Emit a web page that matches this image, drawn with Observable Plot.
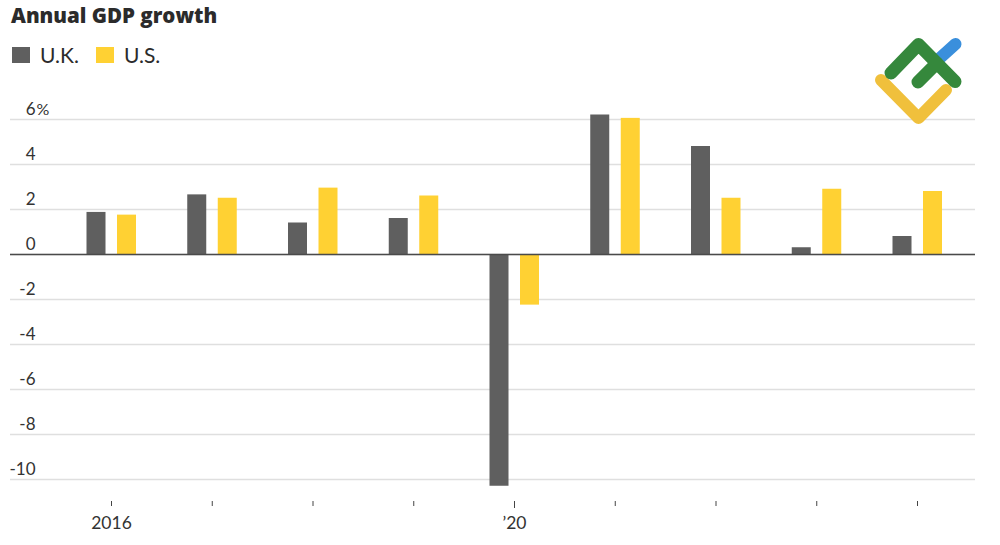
<!DOCTYPE html>
<html><head><meta charset="utf-8">
<script src="https://cdn.jsdelivr.net/npm/d3@7"></script>
<script src="https://cdn.jsdelivr.net/npm/@observablehq/plot@0.6"></script>
<style>
html,body{margin:0;padding:0;background:#fff;font-family:Lato,"Open Sans",sans-serif;color:#2b2b2b;}
#wrap{position:relative;width:1000px;height:545px;overflow:hidden;}
#hd{height:70px;position:relative;}
#title{position:absolute;left:11px;top:3px;font-family:"Open Sans",sans-serif;font-size:20.5px;font-weight:800;line-height:24px;white-space:nowrap;}
.lg{position:absolute;top:47px;width:18px;height:16px;}
.lt{position:absolute;top:43px;font-size:21px;line-height:24px;}
#logo{position:absolute;left:860px;top:20px;}
svg{display:block;}
</style></head><body>
<div id="wrap">
<div id="hd">
<div id="title">Annual GDP growth</div>
<div class="lg" style="left:12px;background:#5f5f5f"></div><div class="lt" style="left:40px">U.K.</div>
<div class="lg" style="left:96px;background:#ffd133"></div><div class="lt" style="left:124px">U.S.</div>
</div>
<div id="chart"></div>
<svg id="logo" width="120" height="115" viewBox="860 20 120 115" fill="none" stroke-width="12" stroke-linecap="round" stroke-linejoin="round">
<path d="M940 58L955.5 44" stroke="#3a8fdc"/>
<path d="M881 80L918.500 118L946 90" stroke="#f0c03c"/>
<path d="M891 73L918.500 44.500L955 81.500M918 82L937 63" stroke="#35883c" stroke-width="13"/>
</svg>
</div>
<script>
const years = [2016,2017,2018,2019,2020,2021,2022,2023,2024];
const ukValues = [1.87,2.65,1.4,1.6,-10.3,6.2,4.8,0.3,0.8];
const usValues = [1.75,2.5,2.95,2.6,-2.25,6.05,2.5,2.9,2.8];
const seriesNames = ["U.K.","U.S."];
const seriesColors = ["#5f5f5f","#ffd133"];
const yTicks = [6,4,2,0,-2,-4,-6,-8,-10];
const xLabels = {2016:"2016",2020:"’20"};

const ukRows = years.map((year,i)=>({year,series:seriesNames[0],value:ukValues[i]}));
const usRows = years.map((year,i)=>({year,series:seriesNames[1],value:usValues[i]}));
const step = 100.75, barWidth = 19, inner = 1-barWidth/step;
const chart = Plot.plot({
  width:1000,height:475,
  marginLeft:10,marginRight:25,marginTop:40,marginBottom:44,
  style:{background:"transparent",fontFamily:"Lato,'Open Sans',sans-serif",fontSize:"16px",color:"#333"},
  x:{type:"band",domain:years,range:[111-step/2,917+step/2],paddingInner:inner,paddingOuter:inner/2,align:0.5,round:false,label:null,axis:null},
  y:{domain:[-10,6],range:[409,49],axis:null,label:null},
  color:{domain:seriesNames,range:seriesColors},
  marks:[
    Plot.ruleY(yTicks,{stroke:"#dfdfdf",strokeWidth:1.4,strokeOpacity:1}),
    Plot.barY(ukRows,{x:"year",y:"value",fill:"series",dx:-15}),
    Plot.barY(usRows,{x:"year",y:"value",fill:"series",dx:15.5}),
    Plot.ruleY([0],{stroke:"#4a4a4a",strokeWidth:1.4}),
    Plot.text(yTicks,{y:d=>d,text:d=>String(d),frameAnchor:"left",textAnchor:"end",dx:25,dy:-10,fill:"#333",fontSize:17}),
    Plot.text(yTicks.filter(d=>d===6),{y:d=>d,text:()=>"%",frameAnchor:"left",textAnchor:"start",dx:26,dy:-10,fill:"#333",fontSize:16}),
    Plot.axisX({anchor:"bottom",tickSize:5,tickPadding:10,fontSize:17.5,tickFormat:d=>xLabels[d]||"",stroke:"#444",color:"#333",label:null}),
    Plot.axisX([2020],{anchor:"bottom",tickSize:7,tickFormat:()=>"",stroke:"#444",label:null})
  ]
});
document.getElementById("chart").appendChild(chart);
</script>
</body></html>
